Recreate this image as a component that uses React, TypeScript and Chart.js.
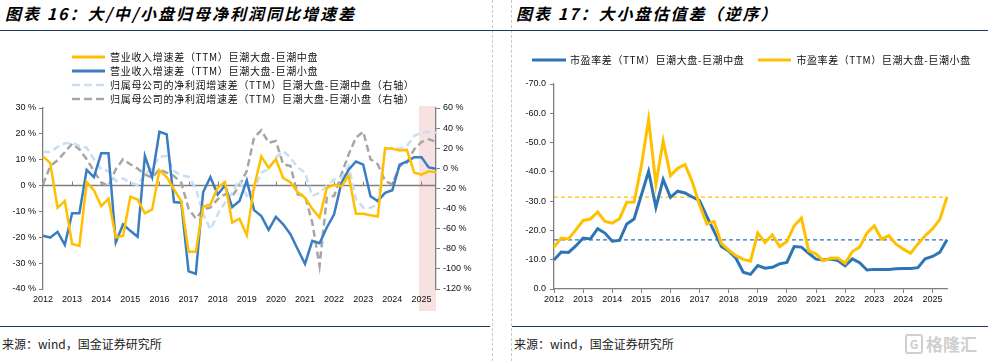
import React, { useEffect, useRef } from 'react';
import { Chart, registerables } from 'chart.js';

Chart.register(...registerables);

// ---------- data ----------
const years = ['2012', '2013', '2014', '2015', '2016', '2017', '2018', '2019', '2020', '2021', '2022', '2023', '2024', '2025'];
const quarters = years.flatMap((y) => ['Q1', 'Q2', 'Q3', 'Q4'].map((q) => y + q)).slice(0, 55);
const highlightStart = '2025Q1';

// 营业收入增速差（TTM）巨潮大盘-巨潮中盘 (%)
const revLargeMid = [11.3, 8.7, -8.6, -6.0, -22.6, -23.3, 1.3, -1.8, -7.9, -5.1, -20.1, -19.4, -4.3, -5.4, -10.7, -9.2, 5.9, 3.3, -1.5, -6.0, -25.6, -25.6, -8.2, -7.3, -0.9, 1.4, -14.3, -12.8, -19.2, -0.5, 11.3, 6.8, 10.2, 2.9, 1.3, -2.6, -4.7, -9.0, -12.4, -0.9, 0.4, -0.3, 3.8, -10.9, -10.9, -11.5, -12.0, 14.5, 14.2, 13.6, 13.8, 5.1, 4.2, 5.5, 5.1];
// 营业收入增速差（TTM）巨潮大盘-巨潮小盘 (%)
const revLargeSmall = [-19.4, -20.1, -17.9, -22.9, -10.7, -10.7, 6.1, 3.3, 12.5, 12.5, -22.0, -15.0, -17.5, -19.8, 11.5, 3.3, 20.8, 19.8, -6.4, -6.6, -33.2, -34.1, -2.6, 3.3, -3.5, 0.0, -8.3, -6.0, 2.0, -9.5, -11.8, -17.1, -12.1, -15.0, -18.8, -24.6, -30.3, -21.4, -22.3, -16.2, -11.1, 1.0, 6.1, 9.3, 8.1, -4.1, -6.0, -2.8, -1.8, 8.1, 9.3, 11.0, 11.0, 7.0, 6.5];
// 归属母公司的净利润增速差（TTM）巨潮大盘-巨潮中盘（右轴）
const profitLargeMid = [16.6, 16.3, 21.2, 24.9, 25.5, 22.2, 20.6, 9.0, -1.0, -2.7, -12.6, -10.0, -14.3, -16.6, -6.0, 0.7, 11.6, 12.3, -2.7, -7.0, -8.3, -20.0, -45.0, -60.7, -45.8, -34.2, -24.2, -12.0, -27.5, -20.9, -4.3, -1.0, 10.6, 17.2, 10.6, 0.7, -4.3, -27.5, -24.2, -17.6, -10.9, -9.3, 2.3, -30.8, -39.1, -39.1, -35.8, 18.9, 20.6, 19.6, 22.2, 32.2, 35.5, 36.2, 35.5];
// 归属母公司的净利润增速差（TTM）巨潮大盘-巨潮小盘（右轴）
const profitLargeSmall = [-16.0, 2.3, 8.0, 16.0, 24.5, 19.0, 9.0, -2.7, -14.0, -17.6, -1.0, 9.0, 4.0, -0.3, -6.0, -9.3, -1.0, -4.3, -7.6, -14.3, -40.0, -50.0, -40.8, -39.0, -30.8, -25.9, -27.5, -17.0, -2.7, 30.5, 37.8, 25.5, 27.2, 4.0, 2.3, -25.9, -27.5, -54.0, -97.0, -29.2, -27.5, -6.0, 13.9, 30.5, 36.5, 9.0, 4.0, -12.6, -16.0, 2.3, 5.6, 18.9, 26.2, 28.9, 26.5];

// 市盈率差（TTM）巨潮大盘-巨潮中盘
const peLargeMid = [-9.9, -12.6, -12.5, -14.7, -17.4, -17.1, -20.6, -19.1, -16.3, -16.6, -22.2, -23.9, -32.0, -40.2, -27.9, -37.4, -31.3, -33.4, -32.8, -31.4, -30.2, -24.8, -19.7, -14.5, -13.0, -10.5, -5.7, -5.0, -8.0, -7.1, -7.4, -8.6, -9.1, -14.5, -14.3, -12.2, -10.2, -9.9, -10.2, -9.7, -7.9, -10.3, -9.0, -6.5, -6.7, -6.7, -6.7, -6.9, -7.0, -7.0, -7.3, -10.3, -11.1, -12.5, -16.8];
// 市盈率差（TTM）巨潮大盘-巨潮小盘
const peLargeSmall = [-14.3, -17.4, -17.1, -20.2, -23.4, -23.9, -26.3, -23.1, -22.5, -24.0, -29.6, -29.7, -42.0, -57.9, -35.8, -50.5, -38.7, -41.2, -42.5, -36.6, -28.7, -22.2, -23.0, -15.6, -13.3, -11.4, -10.1, -9.5, -19.1, -15.9, -18.5, -14.5, -16.2, -21.6, -24.2, -13.0, -12.0, -9.6, -10.5, -10.6, -8.8, -12.8, -14.3, -19.1, -21.6, -17.0, -18.2, -15.3, -13.6, -12.2, -15.4, -18.2, -20.5, -23.7, -31.4];
const peMidRef = peLargeMid[peLargeMid.length - 1];
const peSmallRef = peLargeSmall[peLargeSmall.length - 1];

const leftLegend = [
  { label: '营业收入增速差（TTM）巨潮大盘-巨潮中盘', color: '#FFC000', dashed: false },
  { label: '营业收入增速差（TTM）巨潮大盘-巨潮小盘', color: '#3A7DC2', dashed: false },
  { label: '归属母公司的净利润增速差（TTM）巨潮大盘-巨潮中盘（右轴）', color: '#C8DEF2', dashed: true },
  { label: '归属母公司的净利润增速差（TTM）巨潮大盘-巨潮小盘（右轴）', color: '#A6A6A6', dashed: true },
];
const rightLegend = [
  { label: '市盈率差（TTM）巨潮大盘-巨潮中盘', color: '#2E75B6' },
  { label: '市盈率差（TTM）巨潮大盘-巨潮小盘', color: '#FFC000' },
];

// ---------- styles ----------
const FONT_CJK = "'Noto Sans CJK SC', 'Noto Sans', sans-serif";
const FONT_NUM = "'Liberation Sans', Arial, sans-serif";
const AXIS = '#7F7F7F';
const tickFont = { family: FONT_NUM, size: 9 };

const yearLabel = (idx: number) => (idx % 4 === 0 ? quarters[idx].slice(0, 4) : '');

const leftDecor = {
  id: 'leftDecor',
  beforeDraw(chart: any) {
    const { ctx, chartArea, scales } = chart;
    const x0 = scales.x.getPixelForValue(quarters.indexOf(highlightStart)) - 2.5;
    ctx.save();
    ctx.fillStyle = '#F7E1E1';
    ctx.fillRect(x0, chartArea.top - 2, chartArea.right - x0, chartArea.bottom + 22 - (chartArea.top - 2));
    ctx.restore();
  },
  beforeDatasetsDraw(chart: any) {
    const { ctx, chartArea, scales } = chart;
    const y0 = scales.y.getPixelForValue(0);
    ctx.save();
    ctx.strokeStyle = AXIS;
    ctx.lineWidth = 1.6;
    ctx.beginPath();
    ctx.moveTo(chartArea.left, y0);
    ctx.lineTo(chartArea.right, y0);
    ctx.stroke();
    ctx.lineWidth = 1;
    ctx.beginPath();
    for (let i = 0; i < quarters.length; i += 4) {
      const px = Math.round(scales.x.getPixelForValue(i)) + 0.5;
      ctx.moveTo(px, y0);
      ctx.lineTo(px, y0 - 4);
    }
    ctx.stroke();
    ctx.restore();
  },
};

function leftConfig(): any {
  const line = (data: number[], color: string, axis: string, dashed: boolean, label: string) => ({
    label,
    data,
    borderColor: color,
    backgroundColor: color,
    borderWidth: 2.5,
    borderDash: dashed ? [7, 4] : [],
    pointRadius: 0,
    tension: 0,
    yAxisID: axis,
    fill: false,
  });
  return {
    type: 'line',
    data: {
      labels: quarters,
      datasets: [
        line(revLargeMid, leftLegend[0].color, 'y', false, leftLegend[0].label),
        line(revLargeSmall, leftLegend[1].color, 'y', false, leftLegend[1].label),
        line(profitLargeMid, leftLegend[2].color, 'y1', true, leftLegend[2].label),
        line(profitLargeSmall, leftLegend[3].color, 'y1', true, leftLegend[3].label),
      ],
    },
    options: {
      animation: false,
      responsive: false,
      maintainAspectRatio: false,
      layout: { padding: { top: 68, left: 0, right: 0, bottom: 0 } },
      plugins: { legend: { display: false }, tooltip: { enabled: false } },
      scales: {
        x: {
          type: 'category',
          offset: false,
          grid: { display: true, drawOnChartArea: false, drawTicks: false },
          border: { display: false },
          ticks: {
            autoSkip: false,
            maxRotation: 0,
            minRotation: 0,
            padding: 5,
            color: '#111',
            font: tickFont,
            callback: (_v: any, i: number) => yearLabel(i),
          },
          afterFit: (s: any) => { s.height = 41; },
        },
        y: {
          position: 'left',
          min: -40,
          max: 30,
          ticks: { stepSize: 10, color: '#111', font: tickFont, padding: 3, callback: (v: any) => `${v} %` },
          grid: { drawOnChartArea: false, drawTicks: true, tickLength: 4, color: AXIS },
          border: { display: true, color: AXIS, width: 1.3 },
          afterFit: (s: any) => { s.width = 43; },
        },
        y1: {
          position: 'right',
          min: -120,
          max: 60,
          ticks: { stepSize: 20, color: '#111', font: tickFont, padding: 3, callback: (v: any) => `${v} %` },
          grid: { drawOnChartArea: false, drawTicks: true, tickLength: 4, color: AXIS },
          border: { display: true, color: AXIS, width: 1.3 },
          afterFit: (s: any) => { s.width = 58; },
        },
      },
    },
    plugins: [leftDecor],
  };
}

function rightConfig(): any {
  return {
    type: 'line',
    data: {
      labels: quarters,
      datasets: [
        {
          label: rightLegend[1].label,
          data: peLargeSmall,
          borderColor: rightLegend[1].color,
          borderWidth: 3,
          pointRadius: 0,
          tension: 0,
          order: 1,
        },
        {
          label: rightLegend[0].label,
          data: peLargeMid,
          borderColor: rightLegend[0].color,
          borderWidth: 3,
          pointRadius: 0,
          tension: 0,
          order: 2,
        },
        {
          label: 'ref-small',
          data: quarters.map(() => peSmallRef),
          borderColor: '#FFC000',
          borderWidth: 1.3,
          borderDash: [4, 3],
          pointRadius: 0,
          order: 3,
        },
        {
          label: 'ref-mid',
          data: quarters.map(() => peMidRef),
          borderColor: '#2E75B6',
          borderWidth: 1.3,
          borderDash: [4, 3],
          pointRadius: 0,
          order: 4,
        },
      ],
    },
    options: {
      animation: false,
      responsive: false,
      maintainAspectRatio: false,
      layout: { padding: { top: 44, left: 0, right: 41, bottom: 0 } },
      plugins: { legend: { display: false }, tooltip: { enabled: false } },
      scales: {
        x: {
          type: 'category',
          offset: false,
          grid: {
            display: true,
            drawOnChartArea: false,
            drawTicks: true,
            tickLength: 4,
            color: (c: any) => (c.index % 4 === 0 ? AXIS : 'rgba(0,0,0,0)'),
          },
          border: { display: true, color: AXIS, width: 1.3 },
          ticks: {
            autoSkip: false,
            maxRotation: 0,
            minRotation: 0,
            padding: 1,
            color: '#111',
            font: tickFont,
            callback: (_v: any, i: number) => yearLabel(i),
          },
          afterFit: (s: any) => { s.height = 41; },
        },
        y: {
          position: 'left',
          reverse: true,
          min: -70,
          max: 0,
          ticks: { stepSize: 10, color: '#111', font: tickFont, padding: 4, callback: (v: any) => Number(v).toFixed(1) },
          grid: { drawOnChartArea: false, drawTicks: true, tickLength: 4, color: AXIS },
          border: { display: true, color: AXIS, width: 1.3 },
          afterFit: (s: any) => { s.width = 60; },
        },
      },
    },
  };
}

function LegendLine({ color, dashed, width }: { color: string; dashed?: boolean; width: number }) {
  return (
    <svg width={width} height={6} style={{ display: 'block', flex: 'none' }}>
      <line x1={0} y1={3} x2={width} y2={3} stroke={color} strokeWidth={dashed ? 2.5 : 3} strokeDasharray={dashed ? '8 4' : undefined} />
    </svg>
  );
}

export default function App() {
  const leftRef = useRef<HTMLCanvasElement>(null);
  const rightRef = useRef<HTMLCanvasElement>(null);

  useEffect(() => {
    document.body.style.margin = '0';
    const c1 = new Chart(leftRef.current as HTMLCanvasElement, leftConfig());
    const c2 = new Chart(rightRef.current as HTMLCanvasElement, rightConfig());
    return () => {
      c1.destroy();
      c2.destroy();
    };
  }, []);

  const titleStyle: React.CSSProperties = {
    position: 'absolute',
    top: 2,
    fontFamily: FONT_CJK,
    fontSize: 16,
    fontWeight: 700,
    fontStyle: 'italic',
    letterSpacing: 2,
    lineHeight: '22px',
    color: '#000',
    whiteSpace: 'nowrap',
  };
  const sourceStyle: React.CSSProperties = {
    position: 'absolute',
    top: 335,
    fontFamily: FONT_CJK,
    fontSize: 12,
    lineHeight: '18px',
    color: '#222',
    whiteSpace: 'nowrap',
  };
  const legendText: React.CSSProperties = {
    fontFamily: FONT_CJK,
    fontSize: 10,
    letterSpacing: 0.7,
    color: '#111',
    whiteSpace: 'nowrap',
    lineHeight: '14px',
  };

  return (
    <div style={{ position: 'absolute', left: 0, top: 0, width: 988, height: 361, background: '#fff', overflow: 'hidden' }}>
      {/* separators */}
      <div style={{ position: 'absolute', left: 492, top: 0, height: 361, borderLeft: '1px dashed #c8c8c8' }} />
      <div style={{ position: 'absolute', left: 511, top: 0, height: 361, borderLeft: '1px dashed #c8c8c8' }} />
      <div style={{ position: 'absolute', left: 0, top: 30, width: 988, borderTop: '1.5px solid #1F3B5C' }} />
      <div style={{ position: 'absolute', left: 0, top: 326, width: 490, borderTop: '1.5px solid #1F3B5C' }} />
      <div style={{ position: 'absolute', left: 512, top: 326, width: 476, borderTop: '1.5px solid #1F3B5C' }} />

      {/* titles */}
      <div style={{ ...titleStyle, left: 5 }}>图表 16：大/中/小盘归母净利润同比增速差</div>
      <div style={{ ...titleStyle, left: 516 }}>图表 17：大小盘估值差（逆序）</div>

      {/* charts */}
      <canvas ref={leftRef} width={494} height={290} style={{ position: 'absolute', left: 0, top: 40, width: 494, height: 290 }} />
      <canvas ref={rightRef} width={494} height={290} style={{ position: 'absolute', left: 494, top: 40, width: 494, height: 290 }} />

      {/* left legend */}
      <div style={{ position: 'absolute', left: 72, top: 50 }}>
        {leftLegend.map((l) => (
          <div key={l.label} style={{ display: 'flex', alignItems: 'center', height: 14 }}>
            <LegendLine color={l.color} dashed={l.dashed} width={33} />
            <span style={{ ...legendText, marginLeft: 5 }}>{l.label}</span>
          </div>
        ))}
      </div>

      {/* right legend */}
      <div style={{ position: 'absolute', left: 532, top: 53, display: 'flex', alignItems: 'center', height: 14 }}>
        <LegendLine color={rightLegend[0].color} width={34} />
        <span style={{ ...legendText, letterSpacing: 0.6, marginLeft: 4 }}>{rightLegend[0].label}</span>
        <div style={{ width: 14 }} />
        <LegendLine color={rightLegend[1].color} width={33} />
        <span style={{ ...legendText, letterSpacing: 0.6, marginLeft: 5 }}>{rightLegend[1].label}</span>
      </div>

      {/* sources */}
      <div style={{ ...sourceStyle, left: 2 }}>来源：wind，国金证券研究所</div>
      <div style={{ ...sourceStyle, left: 514 }}>来源：wind，国金证券研究所</div>

      {/* watermark */}
      <div style={{ position: 'absolute', left: 905, top: 334, display: 'flex', alignItems: 'center', color: '#cfcfcf', fontFamily: FONT_CJK, fontSize: 17, fontWeight: 700, lineHeight: '20px' }}>
        <span style={{ border: '2px solid #cfcfcf', borderRadius: 3, width: 14, height: 16, fontSize: 12, lineHeight: '16px', textAlign: 'center', marginRight: 3 }}>G</span>
        格隆汇
      </div>
    </div>
  );
}
